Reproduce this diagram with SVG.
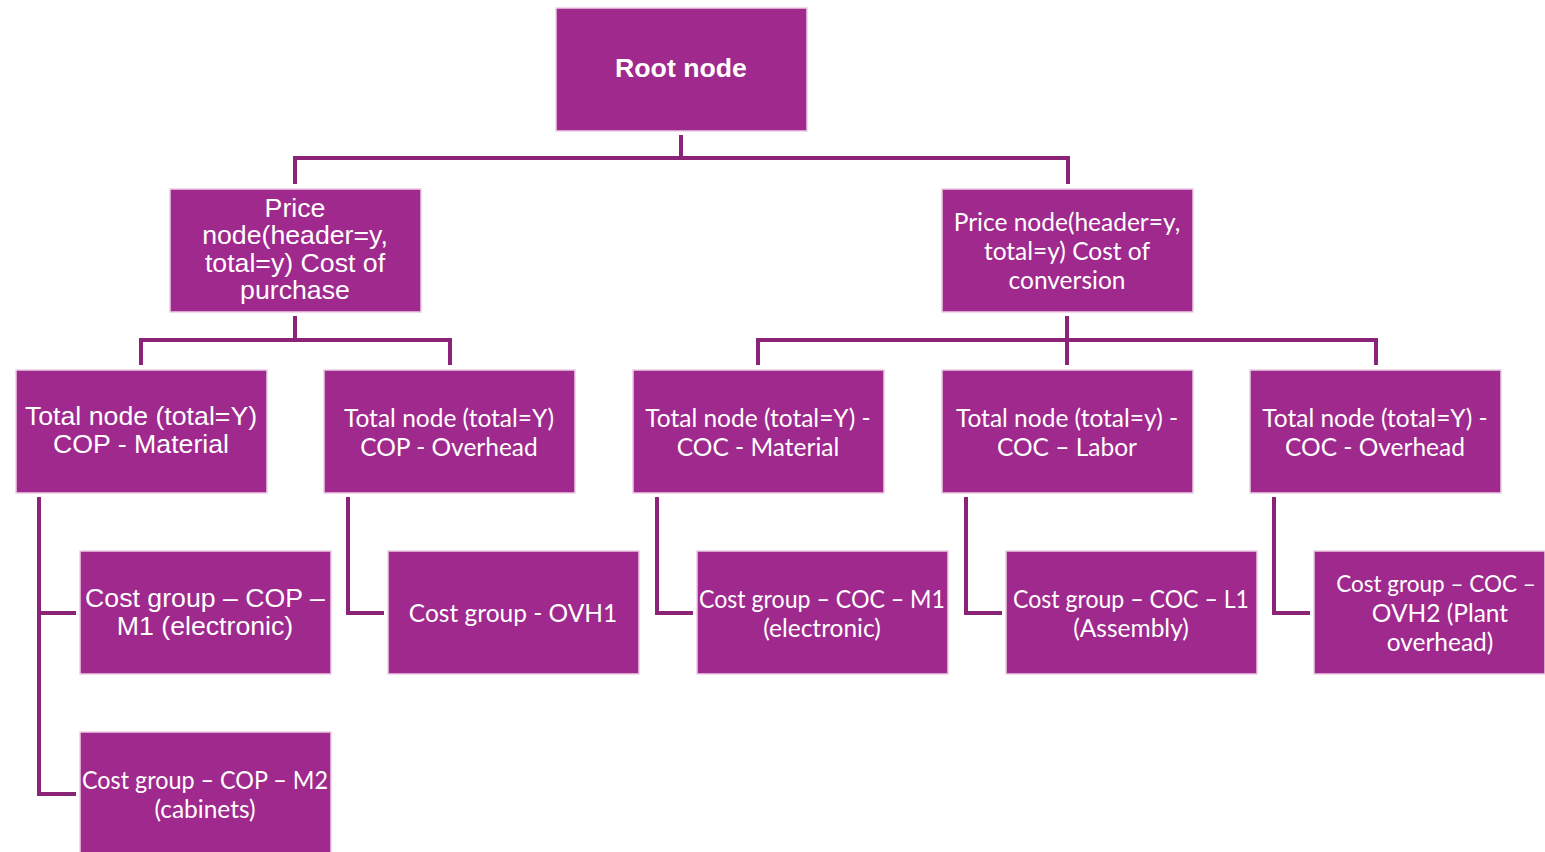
<svg xmlns="http://www.w3.org/2000/svg" width="1545" height="852" viewBox="0 0 1545 852">
<style>
.box{fill:#A0298E;stroke:#EBCDE4;stroke-width:1.5}
.a{font-family:"Liberation Sans",Arial,sans-serif;font-size:26.7px;fill:#fff;text-anchor:middle;dominant-baseline:central}
.c{font-family:Lato,"Open Sans",sans-serif;font-size:24.5px;fill:#fff;text-anchor:middle;dominant-baseline:central}
.b{font-weight:bold}
.con{fill:none;stroke:#8B2479;stroke-width:4}
</style>
<rect width="1545" height="852" fill="#fff"/>
<g id="connectors">
<path class="con" d="M681 135V158M295 184V158H1068V184"/>
<path class="con" d="M295 316V340M141 365V340H450V365"/>
<path class="con" d="M1067 316V365M758 365V340H1376V365"/>
<path class="con" d="M39 497V794H76M39 613H76"/>
<path class="con" d="M348 497V613H384"/>
<path class="con" d="M657 497V613H693"/>
<path class="con" d="M966 497V613H1002"/>
<path class="con" d="M1274 497V613H1310"/>
</g>
<g id="root"><rect class="box" x="556" y="8" width="251" height="123"/><text class="a b" x="681" y="68">Root node</text></g>
<g id="price-cop"><rect class="box" x="170" y="189" width="251" height="123"/><text class="a" x="295"><tspan x="295" y="208">Price</tspan><tspan x="295" y="235">node(header=y,</tspan><tspan x="295" y="263">total=y) Cost of</tspan><tspan x="295" y="290">purchase</tspan></text></g>
<g id="price-coc"><rect class="box" x="942" y="189" width="251" height="123"/><text class="c"><tspan x="1067" y="221">Price node(header=y,</tspan><tspan x="1067" y="250">total=y) Cost of</tspan><tspan x="1067" y="279">conversion</tspan></text></g>
<g id="total-cop-mat"><rect class="box" x="16" y="370" width="251" height="123"/><text class="a"><tspan x="141" y="416">Total node (total=Y)</tspan><tspan x="141" y="444">COP - Material</tspan></text></g>
<g id="total-cop-ovh"><rect class="box" x="324" y="370" width="251" height="123"/><text class="c"><tspan x="449" y="417">Total node (total=Y)</tspan><tspan x="449" y="446">COP - Overhead</tspan></text></g>
<g id="total-coc-mat"><rect class="box" x="633" y="370" width="251" height="123"/><text class="c"><tspan x="758" y="417">Total node (total=Y) -</tspan><tspan x="758" y="446">COC - Material</tspan></text></g>
<g id="total-coc-lab"><rect class="box" x="942" y="370" width="251" height="123"/><text class="c"><tspan x="1067" y="417">Total node (total=y) -</tspan><tspan x="1067" y="446">COC – Labor</tspan></text></g>
<g id="total-coc-ovh"><rect class="box" x="1250" y="370" width="251" height="123"/><text class="c"><tspan x="1375" y="417">Total node (total=Y) -</tspan><tspan x="1375" y="446">COC - Overhead</tspan></text></g>
<g id="cg-cop-m1"><rect class="box" x="80" y="551" width="251" height="123"/><text class="a"><tspan x="205" y="598">Cost group – COP –</tspan><tspan x="205" y="626">M1 (electronic)</tspan></text></g>
<g id="cg-ovh1"><rect class="box" x="388" y="551" width="251" height="123"/><text class="c" x="513" y="612">Cost group - OVH1</text></g>
<g id="cg-coc-m1"><rect class="box" x="697" y="551" width="251" height="123"/><text class="c"><tspan x="822" y="598" textLength="246" lengthAdjust="spacingAndGlyphs">Cost group – COC – M1</tspan><tspan x="822" y="627">(electronic)</tspan></text></g>
<g id="cg-coc-l1"><rect class="box" x="1006" y="551" width="251" height="123"/><text class="c"><tspan x="1131" y="598" textLength="236" lengthAdjust="spacingAndGlyphs">Cost group – COC – L1</tspan><tspan x="1131" y="627">(Assembly)</tspan></text></g>
<g id="cg-coc-ovh2"><rect class="box" x="1314" y="551" width="231" height="123"/><text class="c"><tspan x="1436" y="583" style="font-size:22.5px">Cost group – COC –</tspan><tspan x="1440" y="612">OVH2 (Plant</tspan><tspan x="1440" y="641">overhead)</tspan></text></g>
<g id="cg-cop-m2"><rect class="box" x="80" y="732" width="251" height="130"/><text class="c"><tspan x="205" y="779" textLength="246" lengthAdjust="spacingAndGlyphs">Cost group – COP – M2</tspan><tspan x="205" y="808">(cabinets)</tspan></text></g>
</svg>
